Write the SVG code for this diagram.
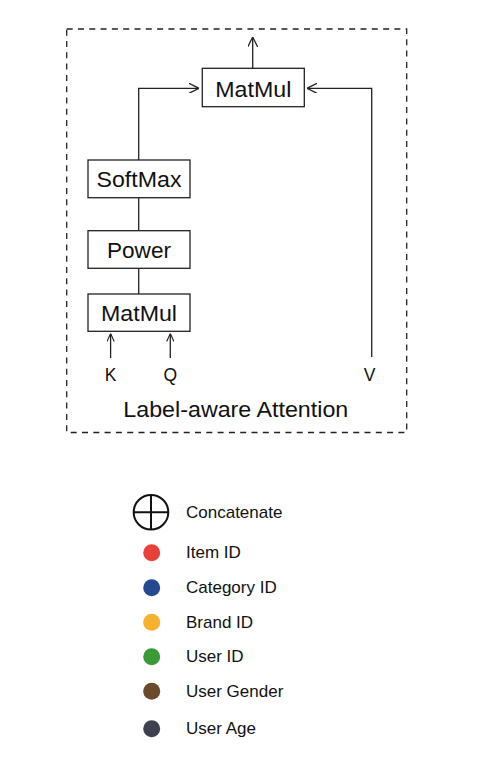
<svg xmlns="http://www.w3.org/2000/svg" width="500" height="757" viewBox="0 0 500 757">
<defs>
<style>
.box{fill:#fff;stroke:#222;stroke-width:1.3}
.lbl{font-family:"Liberation Sans",Arial,sans-serif;font-size:22.6px;fill:#111;text-anchor:middle}
.io{font-family:"Liberation Sans",Arial,sans-serif;font-size:17.5px;fill:#111;text-anchor:middle}
.leg{font-family:"Liberation Sans",Arial,sans-serif;font-size:17px;fill:#111}
.ln{fill:none;stroke:#222;stroke-width:1.3}
</style>
<marker id="arr" viewBox="0 0 10 10" refX="10" refY="5" markerWidth="10" markerHeight="10" markerUnits="userSpaceOnUse" orient="auto">
<path d="M0,0 L10,5 L0,10" fill="none" stroke="#222" stroke-width="1.3"/>
</marker>
<marker id="arrs" viewBox="0 0 10 10" refX="10" refY="5" markerWidth="8" markerHeight="8" markerUnits="userSpaceOnUse" orient="auto">
<path d="M0,0.5 L10,5 L0,9.5" fill="none" stroke="#222" stroke-width="1.4"/>
</marker>
</defs>
<rect width="500" height="757" fill="#fff"/>
<g id="frame">
<rect x="66.7" y="29" width="340" height="403.5" fill="none" stroke="#222" stroke-width="1.3" stroke-dasharray="6 5.3"/>
<text class="lbl" x="235.8" y="416.7" font-size="21.5" textLength="225" lengthAdjust="spacingAndGlyphs">Label-aware Attention</text>
</g>
<g id="connectors">
<path class="ln" d="M252.7,68.3 V37" marker-end="url(#arr)"/>
<path class="ln" d="M138.7,160 V88.3 H199" marker-end="url(#arr)"/>
<path class="ln" d="M371.7,357 V88.3 H307" marker-end="url(#arr)"/>
<path class="ln" d="M138.7,197.7 V230.7"/>
<path class="ln" d="M138.7,268.3 V294"/>
<path class="ln" d="M110.6,358 V333.5" marker-end="url(#arrs)"/>
<path class="ln" d="M170.3,358 V333.5" marker-end="url(#arrs)"/>
</g>
<g id="matmul-top">
<rect class="box" x="202.3" y="68.3" width="102" height="38.4"/>
<text class="lbl" x="253.3" y="96.5" textLength="76" lengthAdjust="spacingAndGlyphs">MatMul</text>
</g>
<g id="softmax">
<rect class="box" x="88" y="160" width="102" height="37.7"/>
<text class="lbl" x="139" y="187" textLength="85" lengthAdjust="spacingAndGlyphs">SoftMax</text>
</g>
<g id="power">
<rect class="box" x="88" y="230.7" width="102" height="37.6"/>
<text class="lbl" x="139" y="257.7">Power</text>
</g>
<g id="matmul-bottom">
<rect class="box" x="88" y="294" width="102" height="37.3"/>
<text class="lbl" x="139" y="320.7" textLength="76" lengthAdjust="spacingAndGlyphs">MatMul</text>
</g>
<g id="input-k"><text class="io" x="110.7" y="381">K</text></g>
<g id="input-q"><text class="io" x="170.3" y="381">Q</text></g>
<g id="input-v"><text class="io" x="369.7" y="381">V</text></g>
<g id="legend">
<g id="legend-concat">
<circle cx="151" cy="512.3" r="17.3" fill="none" stroke="#111" stroke-width="2"/>
<path d="M133.7,512.3 H168.3 M151,495 V529.6" stroke="#111" stroke-width="2"/>
<text class="leg" x="186" y="518.3">Concatenate</text>
</g>
<g id="legend-item"><circle cx="151.7" cy="552.7" r="8.5" fill="#e8413c"/><text class="leg" x="186" y="558.4">Item ID</text></g>
<g id="legend-category"><circle cx="151.7" cy="587.7" r="8.5" fill="#24498f"/><text class="leg" x="186" y="593.4">Category ID</text></g>
<g id="legend-brand"><circle cx="151.7" cy="622.3" r="8.5" fill="#f6b12f"/><text class="leg" x="186" y="628">Brand ID</text></g>
<g id="legend-user"><circle cx="151.7" cy="656.7" r="8.5" fill="#3a9a35"/><text class="leg" x="186" y="662.4">User ID</text></g>
<g id="legend-gender"><circle cx="151.7" cy="691.3" r="8.5" fill="#6b4a2b"/><text class="leg" x="186" y="697">User Gender</text></g>
<g id="legend-age"><circle cx="151.7" cy="728.7" r="8.5" fill="#3e3f4f"/><text class="leg" x="186" y="734.4">User Age</text></g>
</g>
</svg>
